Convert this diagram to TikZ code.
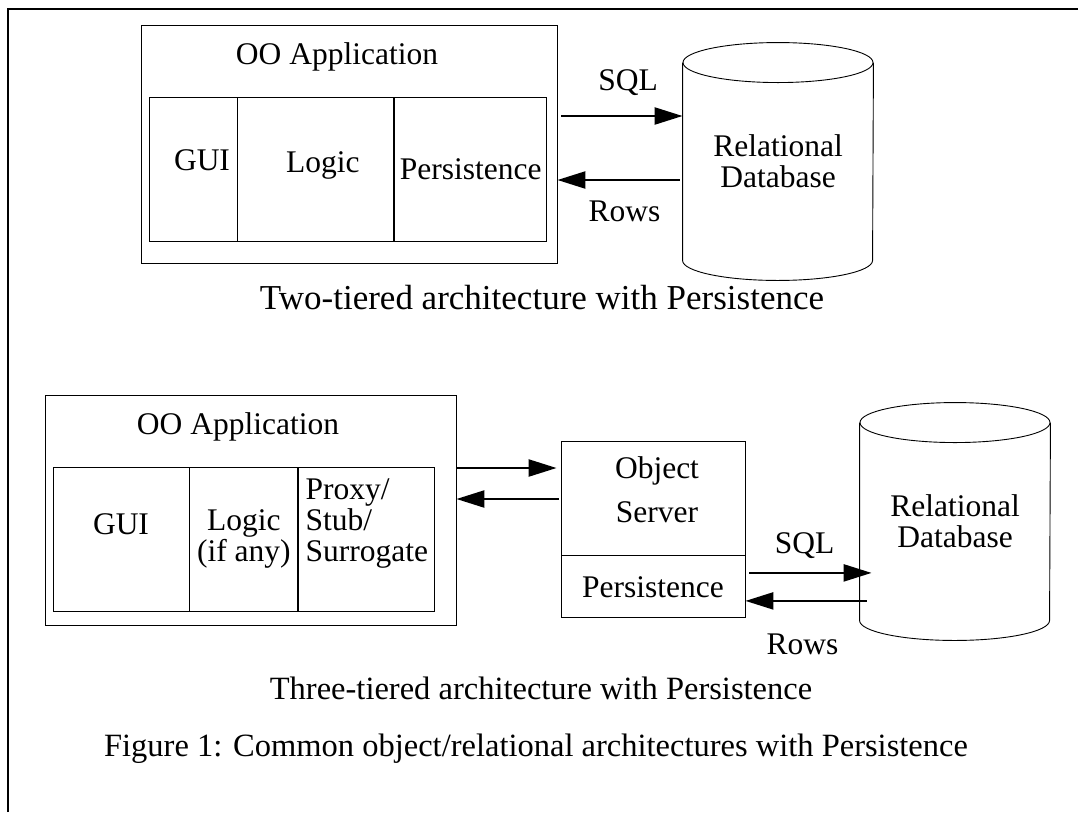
\documentclass[tikz,border=0pt]{standalone}
\usepackage{fontspec}
\setmainfont{Liberation Serif}
\usetikzlibrary{arrows.meta,positioning}
\newcommand{\figfont}{\fontsize{31.5}{31}\selectfont}
\newcommand{\capfont}{\fontsize{32.5}{34}\selectfont}
\newcommand{\bigcapfont}{\fontsize{35}{36}\selectfont}
% database cylinder drawn round an empty node
\newcommand{\drawdb}[1]{%
  \draw ([yshift=-20pt]#1.north) ellipse [x radius=95pt, y radius=20pt];
  \draw ([yshift=-20pt]#1.north west) -- ([yshift=20pt]#1.south west)
    arc [start angle=180, end angle=360, x radius=95pt, y radius=20pt]
    -- ([yshift=-20pt]#1.north east);}

\begin{document}
\begin{tikzpicture}[x=1pt, y=1pt, line width=0.9pt, every node/.style={font=\figfont}]
\tikzstyle{app}=[draw, shape=rectangle, inner sep=0pt]
\tikzstyle{part}=[draw, shape=rectangle, inner sep=0pt, minimum height=144pt]
\tikzstyle{dbbody}=[shape=rectangle, inner sep=0pt, align=center, minimum width=190pt, minimum height=237pt]
\tikzstyle{flow}=[line width=2.4pt, -{Triangle[length=28pt,width=17pt]}]
\tikzstyle{caption}=[font=\capfont]
\useasboundingbox (0,0) rectangle (1078,-812);
\draw[line width=1.6pt] (8,-812) -- (8,-9) -- (1078,-9);

% two-tiered
\node[app, minimum width=416pt, minimum height=238pt] (app1) at (349,-144) {};
\node (title1) at (337,-57) {OO Application};
\node[part, minimum width=88pt, label={[xshift=9pt,yshift=9pt]center:GUI}] (gui1) at (193,-169) {};
\node[part, minimum width=156pt, label={[xshift=7pt,yshift=4pt]center:Logic}] (logic1) [right=0pt of gui1] {};
\node[part, minimum width=152pt] (pers1) [right=0pt of logic1] {Persistence};
\node[dbbody] (db1) at (778,-161.5) {Relational\\Database};
\drawdb{db1}

\coordinate (sql1) at ([xshift=4pt,yshift=28pt]app1.east);
\draw[flow] (sql1) -- (sql1 -| db1.west) node[pos=0.55, above=16pt] {SQL};
\draw[flow] ([xshift=-3pt,yshift=-18.5pt]db1.west) -- ([yshift=-36pt]app1.east) node[pos=0.45, below=16pt] {Rows};

\node[caption, font=\bigcapfont] (cap1) at (542,-298) {Two-tiered architecture with Persistence};

% three-tiered
\node[app, minimum width=411pt, minimum height=230pt] (app2) at (250.5,-510) {};
\node (title2) at (238,-427) {OO Application};
\node[part, minimum width=136pt, label={[yshift=15pt]center:GUI}] (gui2) at (121,-539) {};
\node[part, minimum width=108pt, align=center] (logic2) [right=0pt of gui2] {Logic\\(if any)};
\node[part, minimum width=136pt, label={[yshift=15pt, align=left]center:{Proxy/\\Stub/\\Surrogate}}] (proxy2) [right=0pt of logic2] {};

\node[app, minimum width=184pt, minimum height=114pt] (srv) at (653,-498) {};
\node[align=center] (srvtext) at ([xshift=4pt,yshift=8pt]srv.center) {Object\\[13pt]Server};
\node[app, minimum width=184pt, minimum height=62pt] (srvp) [below=0pt of srv] {Persistence};
\node[dbbody] (db2) at (955,-521.5) {Relational\\Database};
\drawdb{db2}

\coordinate (req2) at ([yshift=42pt]app2.east);
\coordinate (ans2) at ([yshift=11pt]app2.east);
\draw[flow, shorten >=4pt] (req2) -- (req2 -| srv.west);
\draw[flow, shorten <=2pt] (ans2 -| srv.west) -- (ans2);

\coordinate (sql2) at ([xshift=4pt,yshift=14pt]srvp.east);
\coordinate (rows2) at ([yshift=-14pt]srvp.east);
\draw[flow, shorten >=-12pt] (sql2) -- (sql2 -| db2.west) node[midway, above=10pt] {SQL};
\draw[flow, shorten <=-7pt] (rows2 -| db2.west) -- (rows2) node[midway, below=28pt] {Rows};

\node[caption] (cap2) at (541,-688) {Three-tiered architecture with Persistence};
\node[caption] (cap3) at (536,-749) {Figure 1: Common object/relational architectures with Persistence};
\end{tikzpicture}
\end{document}
